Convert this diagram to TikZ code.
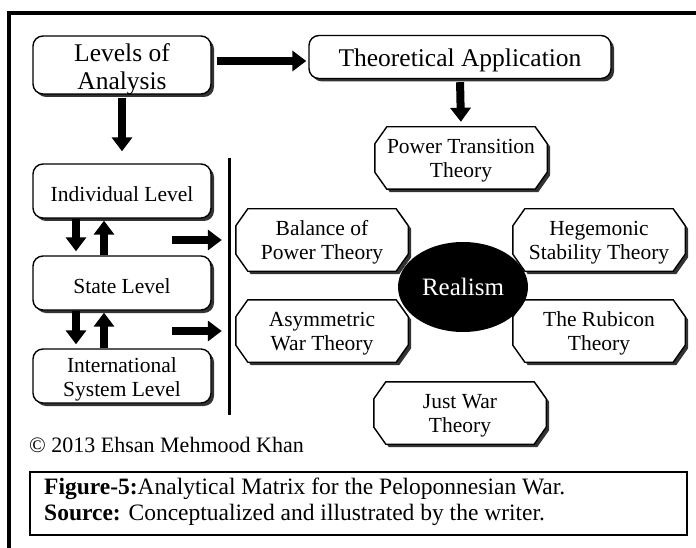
\documentclass[tikz,border=0pt]{standalone}
\usepackage{fontspec}
\setmainfont{Liberation Serif}
\usetikzlibrary{shapes.geometric, arrows.meta, positioning, calc, shadows, backgrounds}

\tikzset{
  darkshadow/.style={drop shadow={shadow xshift=3pt, shadow yshift=-3pt, fill=black!80, opacity=1}},
  levelbox/.style={draw, line width=1.4pt, rounded corners=10pt, fill=white, darkshadow,
    minimum width=178pt, minimum height=54pt, align=center, text height=21pt, text depth=0pt,
    font=\fontsize{21.5}{24}\selectfont},
  theorybox/.style={minimum width=172pt, minimum height=62pt, align=center, text height=39pt, text depth=0pt,
    font=\fontsize{21.5}{24}\selectfont},
  octframe/.style={line width=1.4pt, fill=white, darkshadow},
  fatarrow/.style={line width=8pt, -{Triangle[length=14pt, width=20pt]}}
}

\begin{document}
\begin{tikzpicture}[x=1pt, y=-1pt]
  \useasboundingbox (0,0) rectangle (696,548);
  % outer frame
  \draw[line width=3.5pt] (9,548) -- (9,13) -- (696,13);

  % top row
  \node[levelbox, minimum height=58pt, text height=50pt, font=\fontsize{25.5}{28}\selectfont] (levels) at (122,65) {Levels of\\Analysis};
  \node[levelbox, minimum width=302pt, minimum height=43pt, text height=19pt, font=\fontsize{25.5}{27}\selectfont] (theory) at (460,57) {Theoretical Application};

  % levels of analysis
  \node[levelbox] (indiv) at (122,191) {Individual Level};
  \node[levelbox] (state) at (122,283) {State Level};
  \node[levelbox, text height=41pt] (intl) at (122,376) {International\\System Level};

  % divider
  \coordinate (bartop) at (229,158);
  \coordinate (barbot) at (229,415);
  \draw[line width=3pt] (bartop) -- (barbot);

  % theories
  \node[theorybox] (ptt) at (461,158) {Power Transition\\Theory};
  \node[theorybox] (bop) at (322,240) {Balance of\\Power Theory};
  \node[theorybox] (awt) at (322,331) {Asymmetric\\War Theory};
  \node[theorybox] (hst) at (599,240) {Hegemonic\\Stability Theory};
  \node[theorybox] (rub) at (599,331) {The Rubicon\\Theory};
  \node[theorybox] (jwt) at (460,413) {Just War\\Theory};
  \node[ellipse, fill=black, text=white, minimum width=130pt, minimum height=90pt,
    font=\fontsize{25}{27}\selectfont] (realism) at (463,287) {Realism};

  % octagon frames behind the theory texts
  \begin{scope}[on background layer]
    \fill[white] (0,0) rectangle (696,548);
    \foreach \n in {ptt, bop, awt, hst, rub, jwt} {
      \draw[octframe] ([xshift=12pt]\n.north west) -- ([xshift=-12pt]\n.north east)
        -- ([yshift=-17pt]\n.north east) -- ([yshift=17pt]\n.south east)
        -- ([xshift=-12pt]\n.south east) -- ([xshift=12pt]\n.south west)
        -- ([yshift=17pt]\n.south west) -- ([yshift=-17pt]\n.north west) -- cycle;
    }
  \end{scope}

  % arrows
  \draw[fatarrow, shorten <=5pt, shorten >=2pt] ([yshift=4pt]levels.east) -- ([yshift=4pt]levels.east -| theory.west);
  \draw[fatarrow, shorten <=3pt, shorten >=12pt] (levels.south) -- (indiv.north);
  \draw[fatarrow, shorten <=3pt, shorten >=5pt] (theory.south) -- (ptt.north);
  \foreach \upper/\lower in {indiv/state, state/intl} {
    \draw[fatarrow, shorten >=4pt] ([xshift=-46pt]\upper.south) -- ([xshift=-46pt]\lower.north);
    \draw[fatarrow, shorten >=2pt] ([xshift=-18pt]\lower.north) -- ([xshift=-18pt]\upper.south);
  }
  \coordinate (in1) at (172,240);
  \coordinate (in2) at (172,331);
  \draw[fatarrow, shorten >=14pt] (in1) -- (bop.west);
  \draw[fatarrow, shorten >=14pt] (in2) -- (awt.west);

  % credit and caption
  \node[anchor=west, inner sep=0pt, font=\fontsize{22}{24}\selectfont] (credit) at (29,445) {\textcopyright{} 2013 Ehsan Mehmood Khan};
  \draw[line width=1.5pt] (30,472) rectangle (687,535);
  \node[anchor=north west, inner sep=0pt, align=left, font=\fontsize{23.5}{25.5}\selectfont] (caption) at (44,478)
    {\textbf{Figure-5:}Analytical Matrix for the Peloponnesian War.\\
     \textbf{Source:} Conceptualized and illustrated by the writer.};
\end{tikzpicture}
\end{document}
